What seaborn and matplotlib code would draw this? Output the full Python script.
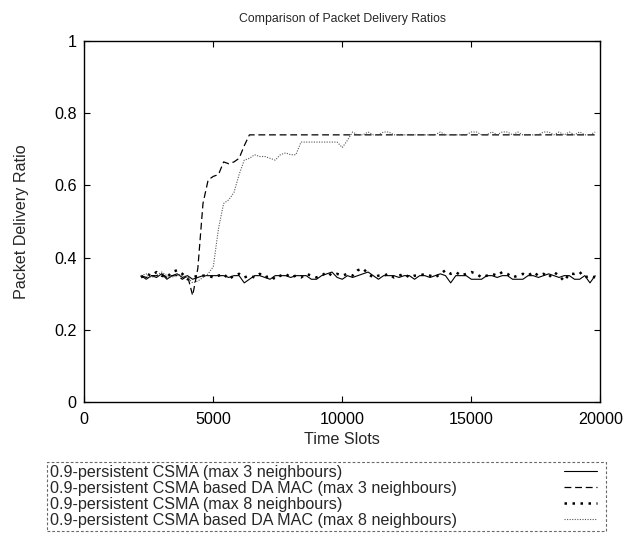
import matplotlib
matplotlib.use("Agg")
import matplotlib.pyplot as plt
from matplotlib.lines import Line2D
import seaborn as sns
import pandas as pd

# ---------------- data ----------------
time_slots = list(range(2200, 20000, 200))  # 2200 .. 19800

csma_max3 = [
    0.35, 0.34, 0.35, 0.345, 0.355, 0.34, 0.35, 0.355, 0.345, 0.35,
    0.34, 0.345, 0.35, 0.35, 0.35, 0.35, 0.35, 0.345, 0.35, 0.35,
    0.33, 0.34, 0.35, 0.35, 0.345, 0.34, 0.35, 0.35, 0.35, 0.345,
    0.35, 0.35, 0.35, 0.34, 0.34, 0.35, 0.355, 0.36, 0.345, 0.34,
    0.35, 0.345, 0.35, 0.355, 0.36, 0.35, 0.34, 0.35, 0.35, 0.35,
    0.345, 0.35, 0.35, 0.34, 0.35, 0.35, 0.345, 0.35, 0.355, 0.35,
    0.33, 0.35, 0.35, 0.35, 0.34, 0.34, 0.34, 0.35, 0.35, 0.345,
    0.35, 0.35, 0.34, 0.34, 0.34, 0.35, 0.35, 0.345, 0.35, 0.355,
    0.35, 0.345, 0.35, 0.35, 0.34, 0.34, 0.35, 0.33, 0.35,
]

damac_max3 = [
    0.35, 0.345, 0.35, 0.35, 0.355, 0.345, 0.35, 0.35, 0.34, 0.35,
    0.295, 0.37, 0.55, 0.615, 0.625, 0.63, 0.665, 0.66, 0.665, 0.675,
    0.71, 0.74, 0.74, 0.74, 0.74, 0.74, 0.74, 0.74, 0.74, 0.74,
    0.74, 0.74, 0.74, 0.74, 0.74, 0.74, 0.74, 0.74, 0.74, 0.74,
    0.74, 0.74, 0.74, 0.74, 0.74, 0.74, 0.74, 0.74, 0.74, 0.74,
    0.74, 0.74, 0.74, 0.74, 0.74, 0.74, 0.74, 0.74, 0.74, 0.74,
    0.74, 0.74, 0.74, 0.74, 0.74, 0.74, 0.74, 0.74, 0.74, 0.74,
    0.74, 0.74, 0.74, 0.74, 0.74, 0.74, 0.74, 0.74, 0.74, 0.74,
    0.74, 0.74, 0.74, 0.74, 0.74, 0.74, 0.74, 0.74, 0.74,
]

csma_max8 = [
    0.345, 0.355, 0.35, 0.36, 0.35, 0.345, 0.36, 0.365, 0.355, 0.34,
    0.345, 0.35, 0.35, 0.35, 0.345, 0.35, 0.355, 0.34, 0.35, 0.355,
    0.345, 0.35, 0.345, 0.355, 0.345, 0.35, 0.34, 0.35, 0.355, 0.345,
    0.35, 0.345, 0.355, 0.35, 0.345, 0.35, 0.36, 0.35, 0.355, 0.35,
    0.355, 0.35, 0.365, 0.37, 0.355, 0.345, 0.35, 0.35, 0.355, 0.345,
    0.35, 0.355, 0.345, 0.35, 0.35, 0.355, 0.35, 0.345, 0.355, 0.365,
    0.355, 0.36, 0.35, 0.355, 0.36, 0.355, 0.345, 0.35, 0.355, 0.35,
    0.36, 0.355, 0.345, 0.35, 0.355, 0.35, 0.36, 0.35, 0.355, 0.345,
    0.36, 0.35, 0.335, 0.355, 0.355, 0.36, 0.345, 0.35, 0.345,
]

damac_max8 = [
    0.35, 0.355, 0.345, 0.35, 0.36, 0.35, 0.345, 0.355, 0.35, 0.345,
    0.33, 0.335, 0.345, 0.355, 0.375, 0.48, 0.55, 0.56, 0.58, 0.63,
    0.67, 0.675, 0.685, 0.68, 0.68, 0.675, 0.67, 0.685, 0.69, 0.685,
    0.685, 0.72, 0.72, 0.72, 0.72, 0.72, 0.72, 0.72, 0.72, 0.705,
    0.725, 0.748, 0.74, 0.74, 0.748, 0.74, 0.74, 0.748, 0.748, 0.74,
    0.74, 0.74, 0.74, 0.74, 0.74, 0.74, 0.74, 0.74, 0.748, 0.74,
    0.74, 0.74, 0.74, 0.74, 0.748, 0.748, 0.74, 0.74, 0.748, 0.74,
    0.748, 0.748, 0.74, 0.748, 0.74, 0.74, 0.74, 0.74, 0.748, 0.748,
    0.74, 0.748, 0.74, 0.748, 0.74, 0.748, 0.74, 0.74, 0.748,
]

series_labels = [
    "0.9-persistent CSMA (max 3 neighbours)",
    "0.9-persistent CSMA based DA MAC (max 3 neighbours)",
    "0.9-persistent CSMA (max 8 neighbours)",
    "0.9-persistent CSMA based DA MAC (max 8 neighbours)",
]

title = "Comparison of Packet Delivery Ratios"
xlabel = "Time Slots"
ylabel = "Packet Delivery Ratio"
xticks = [0, 5000, 10000, 15000, 20000]
yticks = [0, 0.2, 0.4, 0.6, 0.8, 1]
ytick_labels = ["0", "0.2", "0.4", "0.6", "0.8", "1"]

# ---------------- plot ----------------
FS = 11.6
sns.set_style("white")
plt.rcParams["font.family"] = ["Liberation Sans", "DejaVu Sans"]
plt.rcParams["font.size"] = FS

W, H = 624, 534
fig = plt.figure(figsize=(W / 100, H / 100), dpi=100)
ax = fig.add_axes([84.3 / W, 1 - 402 / H, (600.3 - 84.3) / W, (402 - 41) / H])

styles = [
    dict(color="black", linewidth=0.8, linestyle="-"),
    dict(color="black", linewidth=0.9, linestyle=(0, (5.5, 3))),
    dict(color="black", linewidth=1.8, linestyle=(0, (1, 2.2))),
    dict(color="#555555", linewidth=0.8, linestyle=(0, (1, 1.3))),
]
values = [csma_max3, damac_max3, csma_max8, damac_max8]

for lab, vals, st in zip(series_labels, values, styles):
    df = pd.DataFrame({"t": time_slots, "r": vals})
    sns.lineplot(data=df, x="t", y="r", ax=ax, label=lab, **st)

ax.set_xlim(0, 20000)
ax.set_ylim(0, 1)
ax.set_xticks(xticks)
ax.set_xticklabels([str(v) for v in xticks])
ax.set_yticks(yticks)
ax.set_yticklabels(ytick_labels)
ax.tick_params(direction="in", length=4.5, width=0.8, top=True, right=True,
               bottom=True, left=True, labelsize=FS, colors="black")
ax.tick_params(axis="x", pad=7)
ax.tick_params(axis="y", pad=5.5)
for s in ax.spines.values():
    s.set_color("black")
    s.set_linewidth(1.0)

ax.set_title(title, fontsize=8.8, pad=14)
ax.set_xlabel(xlabel, fontsize=FS, labelpad=4)
ax.set_ylabel(ylabel, fontsize=FS, labelpad=18)

handles, labels = ax.get_legend_handles_labels()
ax.get_legend().remove()

# legend box: labels left-aligned, full width
blank = [Line2D([], [], linestyle="none") for _ in handles]
leg1 = fig.legend(blank, labels, loc="upper left",
                  bbox_to_anchor=(47 / W, 1 - 531 / H, (606 - 47) / W, (531 - 462) / H),
                  mode="expand", borderaxespad=0, handlelength=0, handletextpad=0,
                  labelspacing=0.06, borderpad=0.18, fancybox=False, frameon=True,
                  fontsize=FS)
fr = leg1.get_frame()
fr.set_linestyle((0, (2.5, 1.8)))
fr.set_edgecolor("#444444")
fr.set_linewidth(0.8)

# line samples at the right side of the box
leg2 = fig.legend(handles, [""] * len(handles), loc="upper right",
                  bbox_to_anchor=(599.5 / W, 1 - 462 / H), borderaxespad=0,
                  markerfirst=False, handlelength=2.0, handletextpad=0,
                  labelspacing=0.06, borderpad=0.18, frameon=False, fontsize=FS)

fig.savefig("out.png", dpi=100)
